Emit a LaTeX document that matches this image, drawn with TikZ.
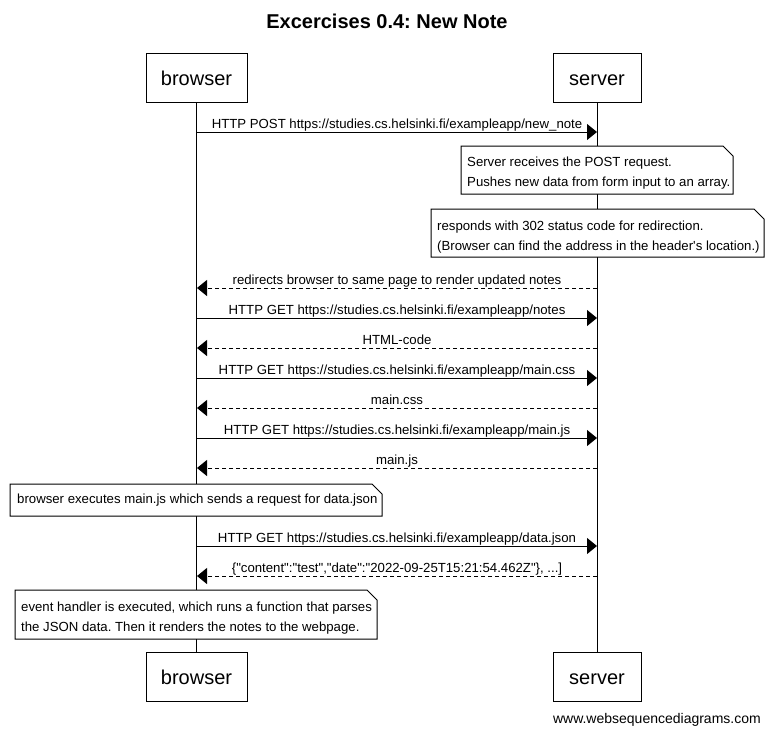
\documentclass[tikz,border=0pt]{standalone}
\usepackage{fontspec}
\setmainfont{Liberation Sans}[Ligatures=TeXOff]
\usetikzlibrary{arrows.meta}
\newcommand{\seqnote}[5]{% name, left, top, right, bottom
  \node[notebox, minimum width={(#4)-(#2)}, minimum height={(#5)-(#3)}] (#1) at (#2,#3) {};
  \draw[noteline] (#1.south west) -- (#1.north west) -- ([xshift=-10pt]#1.north east)
    -- ([yshift=-10pt]#1.north east) -- (#1.south east) -- cycle;
}
\begin{document}
\frenchspacing
\begin{tikzpicture}[x=1pt,y=-1pt,
  part/.style={draw, line width=1pt, inner sep=0pt, fill=white, text height=15pt, text depth=0pt, font=\fontsize{20}{24}\selectfont},
  life/.style={line width=1pt},
  msg/.style={line width=1pt, -{Triangle[length=10pt,width=16pt]}},
  reply/.style={msg, dash pattern=on 4pt off 3pt},
  lbl/.style={font=\fontsize{13.2}{16}\selectfont, anchor=base, inner sep=0pt, yshift=4pt},
  notebox/.style={inner sep=0pt, outer sep=0pt, anchor=north west},
  noteline/.style={line width=1pt, fill=white},
  notetxt/.style={font=\fontsize{13.2}{20}\selectfont, align=left, anchor=base west, inner sep=0pt},
]
\useasboundingbox (0,0) rectangle (771,736);

% title
\node[anchor=base, font=\bfseries\fontsize{20}{24}\selectfont] (title) at (387,28) {Excercises 0.4: New Note};

% participants
\node[part, minimum width=101pt, minimum height=49pt] (pb) at (196.5,77.5) {browser};
\node[part, minimum width=88pt, minimum height=49pt] (ps) at (597,77.5) {server};
\node[part, minimum width=101pt, minimum height=49pt] (pb2) at (196.5,676.5) {browser};
\node[part, minimum width=88pt, minimum height=49pt] (ps2) at (597,676.5) {server};

% lifelines
\draw[life] (pb.south) -- (pb2.north);
\draw[life] (ps.south) -- (ps2.north);

% lifeline points
\foreach \n/\y in {1/132,2/288,3/318,4/348,5/378,6/408,7/438,8/468,9/546,10/576}{
  \coordinate (b\n) at (197,\y);
  \coordinate (s\n) at (597,\y);
}

% messages
\draw[msg] (b1) -- node[lbl]{HTTP POST https://studies.cs.helsinki.fi/exampleapp/new\_note} (s1);

\seqnote{n1}{461}{146}{733}{194}
\node[notetxt] (t1) at (467,186) {Server receives the POST request.\\Pushes new data from form input to an array.};

\seqnote{n2}{431}{209}{764}{257}
\node[notetxt] (t2) at (437,250) {responds with 302 status code for redirection.\\(Browser can find the address in the header's location.)};

\draw[reply] (s2) -- node[lbl]{redirects browser to same page to render updated notes} (b2);
\draw[msg] (b3) -- node[lbl]{HTTP GET https://studies.cs.helsinki.fi/exampleapp/notes} (s3);
\draw[reply] (s4) -- node[lbl]{HTML-code} (b4);
\draw[msg] (b5) -- node[lbl]{HTTP GET https://studies.cs.helsinki.fi/exampleapp/main.css} (s5);
\draw[reply] (s6) -- node[lbl]{main.css} (b6);
\draw[msg] (b7) -- node[lbl]{HTTP GET https://studies.cs.helsinki.fi/exampleapp/main.js} (s7);
\draw[reply] (s8) -- node[lbl]{main.js} (b8);

\seqnote{n3}{10}{484}{382}{516}
\node[notetxt] (t3) at (17,503) {browser executes main.js which sends a request for data.json};

\draw[msg] (b9) -- node[lbl]{HTTP GET https://studies.cs.helsinki.fi/exampleapp/data.json} (s9);
\draw[reply] (s10) -- node[lbl]{\{"content":"test","date":"2022-09-25T15:21:54.462Z"\}, ...]} (b10);

\seqnote{n4}{15}{590}{377}{639}
\node[notetxt] (t4) at (21,631) {event handler is executed, which runs a function that parses\\the JSON data. Then it renders the notes to the webpage.};

% footer
\node[anchor=base east, font=\fontsize{14}{17}\selectfont, inner sep=0pt] (footer) at (761,723) {www.websequencediagrams.com};
\end{tikzpicture}
\end{document}
